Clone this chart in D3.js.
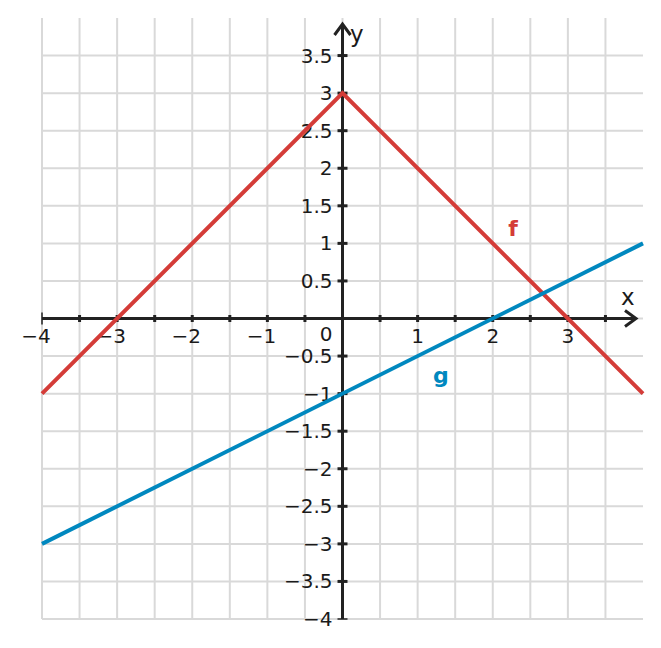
<!DOCTYPE html>
<html>
<head>
<meta charset="utf-8">
<script src="https://cdn.jsdelivr.net/npm/d3@7"></script>
<style>
  body { margin: 0; background: #fff; }
  text { font-family: "DejaVu Sans", sans-serif; }
</style>
</head>
<body>
<div id="chart"></div>
<script>
// function f(x) = 3 - |x|, corner points
var fX = [-4, 0, 4];
var fY = [-1, 3, -1];
// function g(x) = x/2 - 1, end points
var gX = [-4, 4];
var gY = [-3, 1];
// ticks and labels
var xTicks = d3.range(-4, 4, 0.5);
var yTicks = d3.range(-4, 4, 0.5);
var xLabels = [-4, -3, -2, -1, 1, 2, 3];
var yLabels = [-4, -3.5, -3, -2.5, -2, -1.5, -1, -0.5, 0.5, 1, 1.5, 2, 2.5, 3, 3.5];
var curveNames = ["f", "g"];
var curveLabelX = [2.27, 1.31];
var curveLabelY = [1.2, -0.75];

var width = 661, height = 648;
var red = "#d43c38", blue = "#0088bf", axisColor = "#222";

var x = d3.scaleLinear().domain([-4, 4]).range([42, 643]);
var y = d3.scaleLinear().domain([-4, 4]).range([619, 18]);

var svg = d3.select("#chart").append("svg")
    .attr("width", width)
    .attr("height", height);

var fmt = function(v) { return String(v).replace("-", "\u2212"); };

//grid
var grid = svg.append("g").attr("stroke", "#d9d9d9").attr("stroke-width", 2);
grid.selectAll(".gx").data(xTicks).enter().append("line")
    .attr("x1", function(d) { return x(d); })
    .attr("x2", function(d) { return x(d); })
    .attr("y1", y(4)).attr("y2", y(-4));
grid.selectAll(".gy").data(yTicks).enter().append("line")
    .attr("y1", function(d) { return y(d); })
    .attr("y2", function(d) { return y(d); })
    .attr("x1", x(-4)).attr("x2", x(4));

//axes lines
var axes = svg.append("g").attr("stroke", axisColor).attr("stroke-width", 3).attr("fill", "none");
axes.append("line").attr("x1", x(-4)).attr("x2", 636).attr("y1", y(0)).attr("y2", y(0));
axes.append("line").attr("x1", x(0)).attr("x2", x(0)).attr("y1", y(-4)).attr("y2", 24);
axes.append("path")
    .attr("d", "M" + 625 + "," + (y(0) - 8) + "L" + 636 + "," + y(0) + "L" + 625 + "," + (y(0) + 8));
axes.append("path")
    .attr("d", "M" + (x(0) - 8) + "," + 35 + "L" + x(0) + "," + 24 + "L" + (x(0) + 8) + "," + 35);

//tick marks
axes.selectAll(".tx").data(xTicks).enter().append("line")
    .attr("x1", function(d) { return x(d); })
    .attr("x2", function(d) { return x(d); })
    .attr("y1", function(d) { return y(0) - (d === -4 ? 6 : 3.5); })
    .attr("y2", function(d) { return y(0) + (d === -4 ? 6 : 3.5); })
    .attr("stroke-width", function(d) { return d === -4 ? 1.5 : 3; });
axes.selectAll(".ty").data(yTicks).enter().append("line")
    .attr("y1", function(d) { return y(d); })
    .attr("y2", function(d) { return y(d); })
    .attr("x1", function(d) { return x(0) - 5; })
    .attr("x2", function(d) { return x(0) + 5; })
    .attr("stroke-width", function(d) { return d === -4 ? 1.5 : 3; });

//tick labels
var labels = svg.append("g").attr("fill", "#1a1a1a").attr("font-size", 20);
labels.selectAll(".lx").data(xLabels).enter().append("text")
    .attr("x", function(d) { return x(d) + (d < 0 ? -6 : 0); })
    .attr("y", y(0) + 24)
    .attr("text-anchor", "middle")
    .text(fmt);
labels.append("text")
    .attr("x", x(0) - 10).attr("y", y(0) + 22)
    .attr("text-anchor", "end")
    .text("0");
labels.selectAll(".ly").data(yLabels).enter().append("text")
    .attr("x", x(0) - 10)
    .attr("y", function(d) { return y(d); })
    .attr("dy", "0.35em")
    .attr("text-anchor", "end")
    .text(fmt);
labels.append("text").attr("x", 350).attr("y", 42).attr("font-size", 23).text("y");
labels.append("text").attr("x", 621).attr("y", 305).attr("font-size", 23).text("x");

//curves
var line = d3.line()
    .x(function(d) { return x(d[0]); })
    .y(function(d) { return y(d[1]); });

svg.append("path")
    .datum(d3.zip(fX, fY))
    .attr("d", line)
    .attr("fill", "none")
    .attr("stroke", red)
    .attr("stroke-width", 4);

svg.append("path")
    .datum(d3.zip(gX, gY))
    .attr("d", line)
    .attr("fill", "none")
    .attr("stroke", blue)
    .attr("stroke-width", 4);

svg.selectAll(".name").data(curveNames).enter().append("text")
    .attr("x", function(d, i) { return x(curveLabelX[i]); })
    .attr("y", function(d, i) { return y(curveLabelY[i]); })
    .attr("dy", "0.35em")
    .attr("text-anchor", "middle")
    .attr("font-size", 22)
    .attr("font-weight", "bold")
    .attr("fill", function(d, i) { return i === 0 ? red : blue; })
    .text(function(d) { return d; });
</script>
</body>
</html>
